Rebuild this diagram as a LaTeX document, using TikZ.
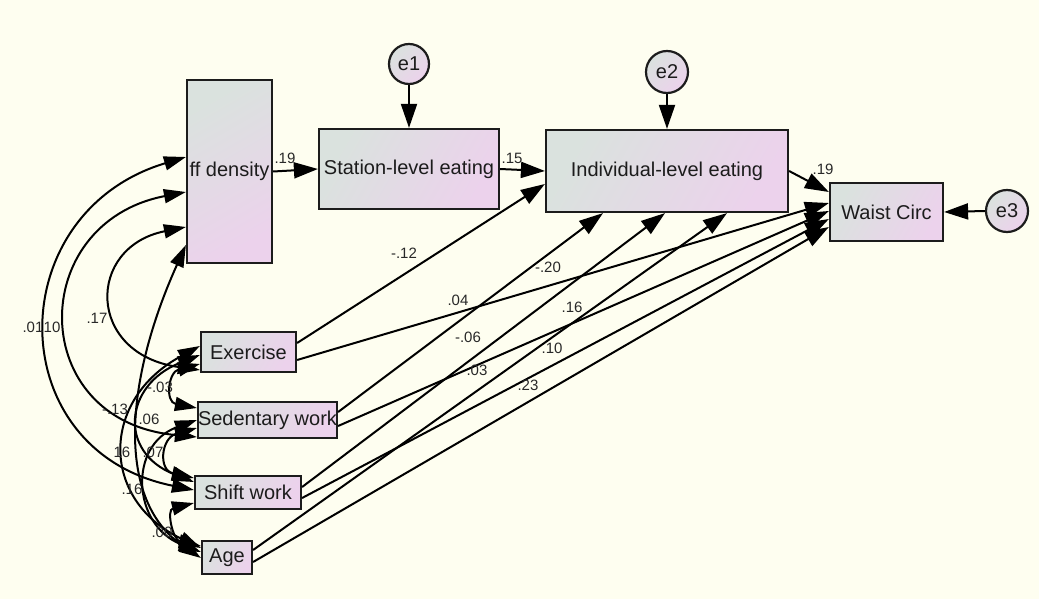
\documentclass[tikz,border=0pt]{standalone}
\usepackage{fontspec}
\setmainfont{Liberation Sans}
\usetikzlibrary{arrows.meta,calc}
\definecolor{bgivory}{RGB}{254,254,240}
\definecolor{boxgray}{RGB}{218,226,222}
\definecolor{boxpink}{RGB}{236,210,236}
\definecolor{inkdark}{RGB}{28,28,28}
\definecolor{labelgray}{RGB}{40,40,40}
\begin{document}
\begin{tikzpicture}[x=1pt,y=-1pt,
  var/.style={rectangle, draw=inkdark, line width=2.2pt, inner sep=0pt,
    font=\fontsize{20}{22}\selectfont, text=inkdark,
    left color=boxgray, right color=boxpink, shading angle=60},
  err/.style={circle, draw=inkdark, line width=2.2pt, inner sep=0pt,
    font=\fontsize{20}{22}\selectfont, text=inkdark,
    left color=boxgray, right color=boxpink, shading angle=45},
  coef/.style={font=\fontsize{15}{16}\selectfont, text=labelgray, inner sep=0pt},
  reg/.style={line width=2pt, draw=black, -{Triangle[length=24pt,width=16pt]}},
  cov/.style={line width=2pt, draw=black,
    {Triangle[length=22pt,width=14pt]}-{Triangle[length=22pt,width=14pt]}}]

% canvas
\fill[bgivory] (0,0) rectangle (1039,599);
\useasboundingbox (0,0) rectangle (1039,599);

% observed variables
\node[var, minimum width=85pt, minimum height=183pt, shading angle=30] (F) at (229.5,171.5) {ff density};
\node[var, minimum width=180pt, minimum height=80pt] (St) at (409,169) {Station-level eating};
\node[var, minimum width=242pt, minimum height=82pt] (Ind) at (667,171) {Individual-level eating};
\node[var, minimum width=113pt, minimum height=58pt] (W) at (886.5,212) {Waist Circ};
\node[var, minimum width=95pt, minimum height=40pt] (Ex) at (248.5,352) {Exercise};
\node[var, minimum width=139pt, minimum height=36pt] (Se) at (267.5,420) {Sedentary work};
\node[var, minimum width=106pt, minimum height=33pt] (Sh) at (248,492.5) {Shift work};
\node[var, minimum width=50pt, minimum height=33pt] (A) at (227,557.5) {Age};

% error terms
\node[err, minimum size=40pt] (e1) at (409,64) {e1};
\node[err, minimum size=42pt] (e2) at (667,72) {e2};
\node[err, minimum size=42pt] (e3) at (1007,211) {e3};

% regression paths
\draw[reg] (F.east) -- (St.west);
\draw[reg] (e1.south) -- (St.north);
\draw[reg] (St.east) -- (Ind.west);
\draw[reg] (e2.south) -- (Ind.north);
\draw[reg] (Ind.east) -- ($(W.west)+(0,-20)$);
\draw[reg] (e3.west) -- (W.east);
\draw[reg] ($(Ex.east)+(0,-9)$) -- ($(Ind.west)+(0,13)$);
\draw[reg] ($(Ex.east)+(0,8)$) -- ($(W.west)+(0,-9)$);
\draw[reg] ($(Se.east)+(0,-8)$) -- ($(Ind.south)+(-64,0)$);
\draw[reg] ($(Se.east)+(0,6)$) -- ($(W.west)+(0,-1)$);
\draw[reg] ($(Sh.east)+(0,-5.5)$) -- ($(Ind.south)+(-2,0)$);
\draw[reg] ($(Sh.east)+(0,5.5)$) -- ($(W.west)+(0,7)$);
\draw[reg] ($(A.east)+(0,-7.5)$) -- ($(Ind.south)+(60,0)$);
\draw[reg] ($(A.east)+(0,4.5)$) -- ($(W.west)+(0,15)$);

% covariances among the exogenous variables
\draw[cov] ($(F.west)+(0,-14.5)$) .. controls (0,213) and (0,451) .. ($(Sh.west)+(0,-2.5)$);
\draw[cov] ($(F.west)+(0,20.5)$) .. controls (26,223) and (26,421) .. ($(Se.west)+(0,17)$);
\draw[cov] ($(F.west)+(0,55.5)$) .. controls (86,247) and (86,354) .. ($(Ex.west)+(0,18)$);
\draw[cov] ($(F.west)+(0,73.5)$) .. controls (125,380) and (115,500) .. ($(A.west)+(0,0.5)$);
\draw[cov] ($(Ex.west)+(0,12)$) .. controls (168,372) and (165,402) .. ($(Se.west)+(0,-12)$);
\draw[cov] ($(Ex.west)+(0,3)$) .. controls (124,385) and (118,452) .. ($(Sh.west)+(0,-10.5)$);
\draw[cov] ($(Ex.west)+(0,-6)$) .. controls (100,400) and (100,500) .. ($(A.west)+(0,-9.5)$);
\draw[cov] ($(Se.west)+(0,8)$) .. controls (161,438) and (158,470) .. ($(Sh.west)+(0,-14.5)$);
\draw[cov] (Se.west) .. controls (128,445) and (132,525) .. ($(A.west)+(0,-5.5)$);
\draw[cov] ($(Sh.west)+(0,10.5)$) .. controls (166,510) and (173,540) .. ($(A.west)+(0,-11.5)$);

% path coefficients
\node[coef] (k1) at (285,158) {.19};
\node[coef] (k2) at (512,158) {.15};
\node[coef] (k3) at (823,169) {.19};
\node[coef] (k4) at (404,253) {-.12};
\node[coef] (k5) at (548,267) {-.20};
\node[coef] (k6) at (458,300) {.04};
\node[coef] (k7) at (572,307) {.16};
\node[coef] (k8) at (468,337) {-.06};
\node[coef] (k9) at (552,348) {.10};
\node[coef] (k10) at (477,370) {.03};
\node[coef] (k11) at (528,385) {.23};

% covariance estimates
\node[coef] (r1) at (33,327) {.01};
\node[coef] (r2) at (50,327) {.10};
\node[coef] (r3) at (97,318) {.17};
\node[coef] (r4) at (160,387) {-.03};
\node[coef] (r5) at (115,409) {-.13};
\node[coef] (r6) at (149,419) {.06};
\node[coef] (r7) at (122,452) {16};
\node[coef] (r8) at (153,452) {.07};
\node[coef] (r9) at (132,489) {.16};
\node[coef] (r10) at (162,532) {.00};
\end{tikzpicture}
\end{document}
